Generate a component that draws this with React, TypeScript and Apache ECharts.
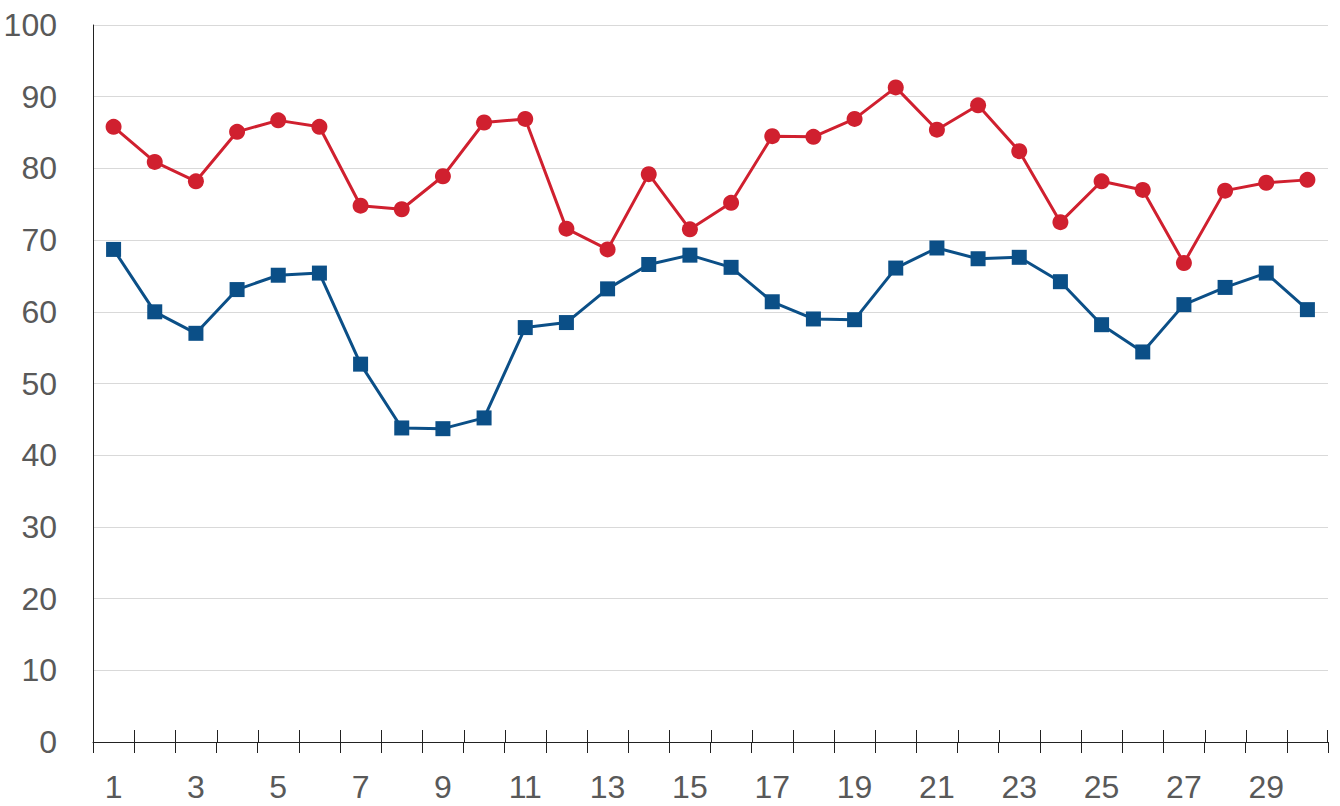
import React, { useEffect, useRef } from "react";
import * as echarts from "echarts";

const categories: string[] = Array.from({ length: 30 }, (_, i) => String(i + 1));

const redSeries: number[] = [
  85.8, 80.9, 78.2, 85.1, 86.7, 85.8, 74.8, 74.3, 78.9, 86.4,
  86.9, 71.6, 68.7, 79.2, 71.5, 75.2, 84.5, 84.4, 86.9, 91.3,
  85.4, 88.8, 82.4, 72.5, 78.2, 77.0, 66.8, 76.9, 78.0, 78.4,
];

const blueSeries: number[] = [
  68.7, 60.0, 57.0, 63.1, 65.1, 65.4, 52.7, 43.8, 43.7, 45.2,
  57.8, 58.5, 63.2, 66.6, 67.9, 66.2, 61.4, 59.0, 58.9, 66.1,
  68.9, 67.4, 67.6, 64.2, 58.2, 54.4, 61.0, 63.4, 65.4, 60.3,
];

const yMin = 0;
const yMax = 100;
const yInterval = 10;

const RED = "#d0202f";
const BLUE = "#0b4f87";
const AXIS = "#222222";
const FONT = "'Liberation Sans', Arial, sans-serif";

export default function App() {
  const ref = useRef<HTMLDivElement>(null);

  useEffect(() => {
    if (!ref.current) return;
    const chart = echarts.init(ref.current, undefined, { renderer: "svg" });
    const lastIndex = categories.length - 1;
    chart.setOption({
      animation: false,
      backgroundColor: "#ffffff",
      grid: { left: 93, top: 25, right: 12, bottom: 64, containLabel: false },
      xAxis: {
        type: "category",
        data: categories,
        boundaryGap: true,
        position: "bottom",
        axisLine: { show: true, onZero: false, lineStyle: { color: AXIS, width: 1 } },
        axisTick: { show: true, inside: false, length: 11, interval: 0, lineStyle: { color: AXIS, width: 1 } },
        axisLabel: {
          show: true,
          interval: 1,
          margin: 29,
          fontSize: 32,
          color: "#595959",
          fontFamily: FONT,
        },
        splitLine: { show: false },
      },
      yAxis: {
        type: "value",
        min: yMin,
        max: yMax,
        interval: yInterval,
        axisLine: { show: true, lineStyle: { color: AXIS, width: 1 } },
        axisTick: { show: false },
        axisLabel: {
          margin: 36,
          fontSize: 32,
          color: "#595959",
          fontFamily: FONT,
        },
        splitLine: { show: true, lineStyle: { color: "#d9d9d9", width: 1 } },
      },
      series: [
        {
          // upper half of the crossing category-boundary ticks
          type: "custom",
          silent: true,
          clip: false,
          z: 1,
          data: categories.map((c) => [c, yMin]),
          encode: { x: 0, y: 1 },
          renderItem: (params: any, api: any) => {
            const idx = api.value(0);
            const pt = api.coord([idx, yMin]);
            const bw = api.size([1, 0])[0];
            const x0 = Math.round(pt[0] - bw / 2) + 0.5;
            const children: any[] = [
              {
                type: "line",
                shape: { x1: x0, y1: pt[1] - 12, x2: x0, y2: pt[1] },
                style: { stroke: AXIS, lineWidth: 1 },
              },
            ];
            if (params.dataIndex === lastIndex) {
              const x1 = Math.round(pt[0] + bw / 2) - 0.5;
              children.push({
                type: "line",
                shape: { x1: x1, y1: pt[1] - 12, x2: x1, y2: pt[1] },
                style: { stroke: AXIS, lineWidth: 1 },
              });
            }
            return { type: "group", children };
          },
        },
        {
          type: "line",
          data: redSeries,
          symbol: "circle",
          symbolSize: 16,
          lineStyle: { color: RED, width: 3 },
          itemStyle: { color: RED },
          z: 3,
        },
        {
          type: "line",
          data: blueSeries,
          symbol: "rect",
          symbolSize: 15,
          lineStyle: { color: BLUE, width: 3 },
          itemStyle: { color: BLUE },
          z: 3,
        },
      ],
    });
    return () => chart.dispose();
  }, []);

  return (
    <div
      ref={ref}
      style={{ position: "absolute", left: 0, top: 0, width: 1340, height: 806 }}
    />
  );
}
